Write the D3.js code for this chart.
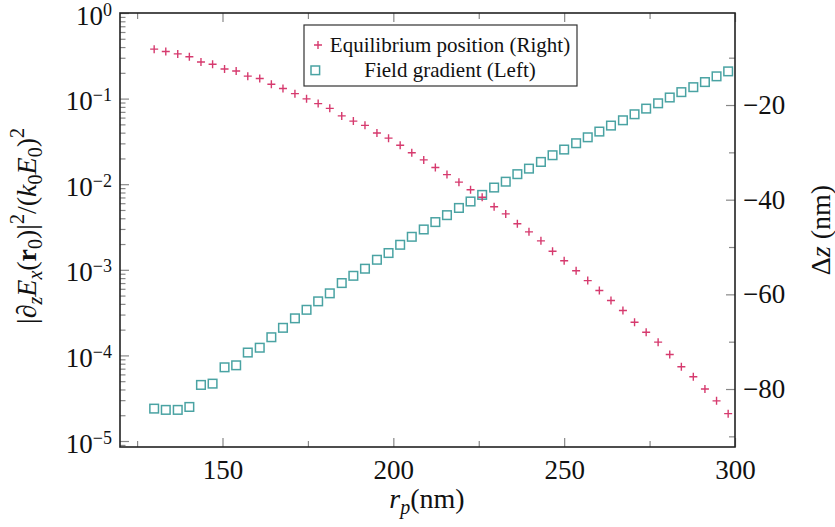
<!DOCTYPE html>
<html>
<head>
<meta charset="utf-8">
<script src="https://cdn.jsdelivr.net/npm/d3@7"></script>
<style>
  body { margin: 0; background: #fff; }
  svg { display: block; }
</style>
</head>
<body>
<div id="chart"></div>
<script>
// DATA
const rp = [130.0, 133.4, 136.9, 140.3, 143.7, 147.1, 150.6, 154.0, 157.4, 160.9,
            164.3, 167.7, 171.2, 174.6, 178.0, 181.4, 184.9, 188.3, 191.7, 195.2,
            198.6, 202.0, 205.4, 208.9, 212.3, 215.7, 219.2, 222.6, 226.0, 229.5,
            232.9, 236.3, 239.7, 243.2, 246.6, 250.0, 253.5, 256.9, 260.3, 263.7,
            267.2, 270.6, 274.0, 277.5, 280.9, 284.3, 287.8, 291.2, 294.6, 298.0];

// equilibrium position, right axis (nm)
const deltaZ = [-8.2, -8.7, -9.2, -9.8, -10.9, -11.4, -12.4, -12.8, -13.9, -14.4,
                -15.6, -16.5, -17.6, -18.7, -19.7, -20.7, -22.3, -23.4, -24.3, -25.9,
                -27.0, -28.5, -30.1, -31.6, -33.2, -34.7, -36.3, -37.9, -39.5, -41.5,
                -43.0, -45.1, -46.8, -48.7, -50.9, -52.9, -55.0, -57.1, -59.2, -61.3,
                -63.4, -65.9, -68.0, -70.1, -72.7, -75.3, -77.4, -80.0, -82.5, -85.2];

// field gradient, left axis
const gradient = [2.39e-5, 2.31e-5, 2.31e-5, 2.50e-5, 4.52e-5, 4.68e-5, 7.26e-5, 7.66e-5, 1.08e-4, 1.23e-4,
                  1.63e-4, 2.10e-4, 2.71e-4, 3.41e-4, 4.28e-4, 5.31e-4, 7.00e-4, 8.51e-4, 1.03e-3, 1.31e-3,
                  1.57e-3, 1.96e-3, 2.43e-3, 2.96e-3, 3.61e-3, 4.35e-3, 5.28e-3, 6.28e-3, 7.50e-3, 9.14e-3,
                  1.07e-2, 1.31e-2, 1.52e-2, 1.82e-2, 2.18e-2, 2.54e-2, 3.01e-2, 3.53e-2, 4.12e-2, 4.84e-2,
                  5.58e-2, 6.56e-2, 7.64e-2, 8.81e-2, 0.103, 0.119, 0.136, 0.156, 0.182, 0.208];

const xMajor = [150, 200, 250, 300];
const xMinor = [125, 175, 225, 275];
const rightMajor = [-80, -60, -40, -20];
const rightMinor = [-90, -70, -50, -30, -10];
const leftExp = [0, -1, -2, -3, -4, -5];

const legendLabels = ["Equilibrium position (Right)", "Field gradient (Left)"];

const colPlus = "#d63a6e";
const colSquare = "#4aa3a3";
const serif = "'Liberation Serif', 'DejaVu Serif', 'Times New Roman', serif";

// Chart variables
const W = 835, H = 527;
const mLeft = 120, mRight = 735, mTop = 13, mBottom = 447;

const xScale = d3.scaleLinear().domain([120, 300]).range([mLeft, mRight]);
const yLeft = d3.scaleLog().domain([Math.pow(10, -5.07), 1]).range([mBottom, mTop]);
const yRight = d3.scaleLinear().domain([-92.25, -0.56]).range([mBottom, mTop]);

const svg = d3.select("#chart").append("svg")
    .attr("width", W)
    .attr("height", H)
    .attr("font-family", serif);

// minor ticks for log axis
var leftMinor = [];
for (let e = -6; e < 0; e++) {
  for (let m = 2; m <= 9; m++) {
    const v = m * Math.pow(10, e);
    if (v >= yLeft.domain()[0] && v <= 1) leftMinor.push(v);
  }
}

function styleTicks(g, col) {
  g.attr("font-family", null);
  g.select(".domain").remove();
  g.selectAll(".tick line").attr("stroke", col || "#888").attr("stroke-width", 1.2);
}

// x axis bottom + top
svg.append("g").attr("transform", "translate(0," + mBottom + ")")
   .call(d3.axisBottom(xScale).tickValues(xMinor).tickSize(-6).tickFormat(""))
   .call(styleTicks);
svg.append("g").attr("transform", "translate(0," + mBottom + ")")
   .call(d3.axisBottom(xScale).tickValues(xMajor).tickSize(-9).tickPadding(0).tickFormat(d3.format("d")))
   .call(styleTicks)
   .call(g => g.selectAll("text").attr("font-size", 27).attr("dy", null).attr("y", 32));
svg.append("g").attr("transform", "translate(0," + mTop + ")")
   .call(d3.axisTop(xScale).tickValues(xMinor).tickSize(-6).tickFormat(""))
   .call(styleTicks);
svg.append("g").attr("transform", "translate(0," + mTop + ")")
   .call(d3.axisTop(xScale).tickValues(xMajor).tickSize(-9).tickFormat(""))
   .call(styleTicks);

// left log axis
svg.append("g").attr("transform", "translate(" + mLeft + ",0)")
   .call(d3.axisLeft(yLeft).tickValues(leftMinor).tickSize(-5.5).tickFormat(""))
   .call(styleTicks);
svg.append("g").attr("transform", "translate(" + mLeft + ",0)")
   .call(d3.axisLeft(yLeft).tickValues(leftExp.map(e => Math.pow(10, e))).tickSize(-9).tickFormat(""))
   .call(styleTicks)
   .call(g => g.selectAll(".tick").each(function(d, i) {
      const t = d3.select(this).append("text")
          .attr("x", -8).attr("y", 11)
          .attr("text-anchor", "end")
          .attr("font-size", 27);
      const e = leftExp[i];
      t.append("tspan").text("10");
      t.append("tspan").attr("font-size", 18).attr("dy", -9)
       .text(e === 0 ? "0" : "\u2212" + Math.abs(e));
   }));

// right axis
svg.append("g").attr("transform", "translate(" + mRight + ",0)")
   .call(d3.axisRight(yRight).tickValues(rightMinor).tickSize(-6).tickFormat(""))
   .call(styleTicks);
svg.append("g").attr("transform", "translate(" + mRight + ",0)")
   .call(d3.axisRight(yRight).tickValues(rightMajor).tickSize(-9).tickFormat(d => "\u2212" + Math.abs(d)))
   .call(styleTicks)
   .call(g => g.selectAll("text").attr("font-size", 27).attr("x", 8).attr("dy", "0.32em"));

// frame
svg.append("rect")
   .attr("x", mLeft).attr("y", mTop)
   .attr("width", mRight - mLeft).attr("height", mBottom - mTop)
   .attr("fill", "none").attr("stroke", "#222").attr("stroke-width", 1.6);

// field gradient squares (left)
svg.append("g").selectAll("rect.sq")
   .data(gradient)
   .enter().append("rect")
   .attr("class", "sq")
   .attr("x", (d, i) => xScale(rp[i]) - 4.3)
   .attr("y", d => yLeft(d) - 4.3)
   .attr("width", 8.6).attr("height", 8.6)
   .attr("fill", "none")
   .attr("stroke", colSquare).attr("stroke-width", 1.5);

// equilibrium position pluses (right)
const plusPath = "M-4,0H4M0,-4V4";
svg.append("g").selectAll("path.pl")
   .data(deltaZ)
   .enter().append("path")
   .attr("class", "pl")
   .attr("d", plusPath)
   .attr("transform", (d, i) => "translate(" + xScale(rp[i]) + "," + yRight(d) + ")")
   .attr("fill", "none")
   .attr("stroke", colPlus).attr("stroke-width", 1.4);

// legend
const leg = svg.append("g").attr("transform", "translate(304,25)");
leg.append("rect").attr("width", 273).attr("height", 61)
   .attr("fill", "#fff").attr("stroke", "#333").attr("stroke-width", 1.2);
leg.append("path").attr("d", plusPath).attr("transform", "translate(14,20)")
   .attr("fill", "none").attr("stroke", colPlus).attr("stroke-width", 1.4);
leg.append("rect").attr("x", 7).attr("y", 41).attr("width", 8.6).attr("height", 8.6)
   .attr("fill", "none").attr("stroke", colSquare).attr("stroke-width", 1.5);
leg.selectAll("text.lg").data(legendLabels).enter().append("text")
   .attr("class", "lg")
   .attr("x", 146).attr("y", (d, i) => 27 + i * 25)
   .attr("text-anchor", "middle").attr("font-size", 21)
   .text(d => d);

// rich text helper: parts = [text, {style}]
function rich(sel, parts) {
  let shift = 0;
  parts.forEach(p => {
    const s = p[1] || {};
    const target = s.shift || 0;
    const ts = sel.append("tspan").text(p[0]);
    if (target !== shift) { ts.attr("dy", target - shift); shift = target; }
    if (s.size) ts.attr("font-size", s.size);
    if (s.italic) ts.attr("font-style", "italic");
    if (s.bold) ts.attr("font-weight", "bold");
  });
}

// axis titles
const xt = svg.append("text").attr("x", 427).attr("y", 508)
   .attr("text-anchor", "middle").attr("font-size", 28);
rich(xt, [["r", {italic: true}], ["p", {italic: true, size: 20, shift: 6}], ["(nm)", {}]]);

const yt = svg.append("text")
   .attr("transform", "translate(36,226) rotate(-90)")
   .attr("text-anchor", "middle").attr("font-size", 28);
rich(yt, [["|\u2202", {}], ["z", {italic: true, size: 20, shift: 6}],
          ["E", {italic: true}], ["x", {italic: true, size: 20, shift: 6}],
          ["(", {}], ["r", {bold: true}], ["0", {size: 20, shift: 6}],
          [")|", {}], ["2", {size: 20, shift: -12}], ["/(", {}],
          ["k", {italic: true}], ["0", {size: 20, shift: 6}],
          ["E", {italic: true}], ["0", {size: 20, shift: 6}], [")", {}],
          ["2", {size: 20, shift: -12}]]);

const rt = svg.append("text")
   .attr("transform", "translate(830,230) rotate(-90)")
   .attr("text-anchor", "middle").attr("font-size", 28);
rich(rt, [["\u0394", {}], ["z", {italic: true}], [" (nm)", {}]]);

svg.selectAll("text").attr("font-family", serif).attr("fill", "#111");
</script>
</body>
</html>
